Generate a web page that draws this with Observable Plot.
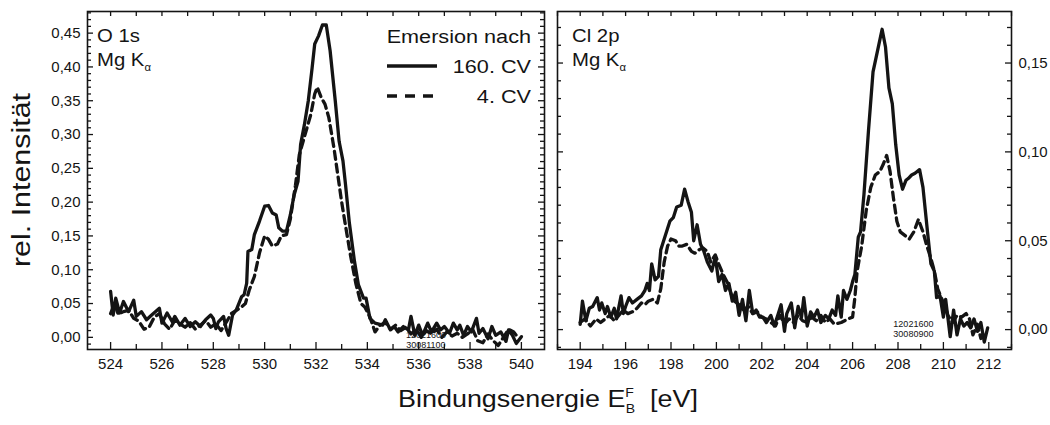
<!DOCTYPE html>
<html><head><meta charset="utf-8">
<script src="https://cdn.jsdelivr.net/npm/d3@7"></script>
<script src="https://cdn.jsdelivr.net/npm/@observablehq/plot@0.6"></script>
<style>
body{margin:0;background:#fff;font-family:"Liberation Sans",Arial,Helvetica,sans-serif;}
#wrap{position:relative;width:1050px;height:425px;overflow:hidden;background:#fff;}
#wrap > svg, #wrap > figure{position:absolute;margin:0;}
</style></head><body><div id="wrap"></div>
<script>
// ---------- data: O 1s (left panel) ----------
const o1sSolidE = [524.0,524.1,524.2,524.35,524.5,524.7,524.9,525.0,525.2,525.4,525.6,525.9,526.0,526.2,526.4,526.5,526.7,526.9,527.1,527.3,527.5,527.7,527.9,528.0,528.1,528.2,528.4,528.5,528.6,528.75,528.9,529.1,529.2,529.3,529.35,529.5,529.6,529.8,530.0,530.15,530.3,530.45,530.55,530.7,530.85,531.0,531.15,531.3,531.4,531.55,531.7,531.85,531.95,532.1,532.25,532.4,532.55,532.75,532.9,533.05,533.15,533.3,533.5,533.65,533.85,533.95,534.1,534.3,534.6,534.7,534.9,535.05,535.2,535.4,535.6,535.7,535.85,536.0,536.15,536.35,536.5,536.7,536.85,537.0,537.2,537.35,537.5,537.6,537.75,537.9,538.05,538.25,538.35,538.5,538.7,538.85,539.0,539.2,539.4,539.5,539.65,539.8,540.0];
const o1sSolidI = [0.068,0.033,0.058,0.036,0.053,0.038,0.055,0.031,0.038,0.026,0.033,0.043,0.021,0.036,0.023,0.031,0.018,0.028,0.016,0.023,0.016,0.026,0.033,0.028,0.013,0.023,0.031,0.013,0.003,0.033,0.041,0.060,0.063,0.080,0.127,0.130,0.152,0.172,0.194,0.195,0.184,0.181,0.162,0.157,0.157,0.181,0.211,0.231,0.285,0.315,0.350,0.399,0.434,0.446,0.462,0.462,0.424,0.350,0.290,0.261,0.226,0.169,0.112,0.078,0.058,0.058,0.028,0.021,0.018,0.026,0.011,0.016,0.008,0.016,0.011,0.031,0.003,0.018,0.003,0.021,0.008,0.021,0.011,0.016,0.006,0.021,0.011,0.018,0.003,0.016,0.008,0.028,0.006,0.013,-0.002,0.016,0.003,0.008,-0.006,0.011,0.003,-0.009,0.001];
const o1sDashE = [524.0,524.15,524.3,524.5,524.7,524.9,525.1,525.3,525.5,525.7,525.9,526.1,526.3,526.5,526.7,526.9,527.1,527.3,527.5,527.7,527.9,528.1,528.3,528.5,528.7,528.9,529.1,529.25,529.4,529.6,529.8,530.0,530.15,530.3,530.5,530.65,530.85,531.0,531.2,531.35,531.5,531.65,531.8,531.95,532.05,532.2,532.35,532.5,532.7,532.85,533.0,533.15,533.35,533.55,533.75,533.9,534.1,534.3,534.5,534.7,534.9,535.1,535.3,535.5,535.7,535.9,536.1,536.3,536.5,536.7,536.9,537.1,537.3,537.5,537.7,537.9,538.1,538.3,538.5,538.7,538.9,539.1,539.3,539.5,539.7,539.9];
const o1sDashI = [0.035,0.050,0.034,0.038,0.040,0.028,0.024,0.012,0.015,0.030,0.035,0.020,0.012,0.025,0.020,0.015,0.022,0.012,0.018,0.025,0.015,0.020,0.010,0.022,0.035,0.040,0.045,0.050,0.070,0.090,0.125,0.150,0.145,0.135,0.138,0.150,0.152,0.175,0.225,0.270,0.290,0.310,0.330,0.360,0.370,0.355,0.345,0.325,0.280,0.240,0.200,0.165,0.120,0.080,0.050,0.045,0.030,0.008,0.018,0.022,0.012,0.018,0.010,0.015,0.005,0.012,0.000,0.010,0.005,0.012,0.000,0.008,0.002,0.006,0.000,0.005,0.012,-0.005,-0.008,0.005,-0.005,-0.012,0.000,0.012,0.008,-0.002];

// ---------- data: Cl 2p (right panel) ----------
const cl2pSolidE = [194.0,194.1,194.25,194.4,194.55,194.75,194.85,194.95,195.1,195.2,195.35,195.5,195.6,195.8,195.9,196.0,196.15,196.3,196.5,196.7,196.85,196.95,197.05,197.15,197.3,197.45,197.55,197.75,197.95,198.1,198.25,198.45,198.6,198.75,198.9,199.0,199.15,199.3,199.45,199.6,199.8,199.95,200.1,200.25,200.4,200.55,200.7,200.85,201.0,201.15,201.3,201.45,201.6,201.75,201.9,202.05,202.2,202.4,202.55,202.7,202.85,203.0,203.1,203.3,203.45,203.6,203.75,203.85,204.0,204.15,204.3,204.45,204.6,204.8,204.95,205.1,205.25,205.35,205.5,205.6,205.75,205.9,206.0,206.1,206.25,206.35,206.5,206.7,206.9,207.1,207.3,207.45,207.6,207.75,207.9,208.05,208.2,208.35,208.45,208.6,208.75,208.95,209.1,209.3,209.45,209.6,209.7,209.85,210.0,210.1,210.3,210.45,210.6,210.75,210.9,211.05,211.2,211.35,211.5,211.65,211.8,211.95];
const cl2pSolidI = [0.003,0.016,0.005,0.012,0.013,0.018,0.011,0.015,0.009,0.013,0.007,0.012,0.006,0.019,0.009,0.013,0.018,0.015,0.017,0.019,0.022,0.026,0.022,0.037,0.028,0.030,0.045,0.053,0.061,0.063,0.069,0.070,0.079,0.072,0.066,0.050,0.059,0.048,0.044,0.038,0.033,0.041,0.027,0.031,0.022,0.026,0.016,0.021,0.008,0.017,0.005,0.022,0.009,0.011,0.007,0.007,0.004,0.008,0.002,0.008,0.014,-0.001,0.009,0.015,0.001,0.013,0.007,0.018,0.002,0.010,0.007,0.011,0.004,0.008,0.006,0.011,0.008,0.019,0.007,0.022,0.017,0.022,0.027,0.031,0.052,0.055,0.076,0.112,0.145,0.157,0.169,0.159,0.136,0.127,0.104,0.087,0.079,0.084,0.085,0.087,0.088,0.090,0.080,0.055,0.037,0.033,0.018,0.019,0.007,0.017,-0.004,0.011,-0.003,0.006,0.002,0.004,0.001,0.006,-0.001,0.004,-0.007,0.001];
const cl2pDashE = [194.0,194.2,194.45,194.7,194.9,195.1,195.3,195.5,195.7,195.9,196.1,196.3,196.5,196.7,196.85,197.0,197.2,197.4,197.55,197.7,197.85,198.0,198.2,198.35,198.5,198.7,198.9,199.05,199.25,199.4,199.6,199.75,199.95,200.1,200.3,200.5,200.65,200.8,201.0,201.2,201.4,201.6,201.8,202.0,202.2,202.4,202.6,202.8,203.0,203.2,203.4,203.6,203.8,204.0,204.2,204.4,204.6,204.8,205.0,205.2,205.5,205.8,206.0,206.1,206.2,206.4,206.6,206.8,207.0,207.2,207.35,207.5,207.65,207.8,207.95,208.1,208.3,208.5,208.7,208.9,209.1,209.25,209.45,209.6,209.75,209.9,210.05,210.2,210.4,210.6,210.8,211.0,211.15,211.3,211.5,211.65,211.8];
const cl2pDashI = [0.004,0.006,0.002,0.006,0.004,0.006,0.008,0.005,0.008,0.011,0.009,0.010,0.012,0.015,0.014,0.016,0.017,0.015,0.023,0.038,0.047,0.051,0.050,0.047,0.047,0.048,0.044,0.043,0.045,0.046,0.044,0.038,0.042,0.037,0.031,0.026,0.020,0.016,0.014,0.011,0.013,0.009,0.010,0.007,0.006,0.004,0.002,0.008,0.003,0.006,0.004,0.008,0.005,0.004,0.007,0.005,0.008,0.004,0.006,0.003,0.004,0.006,0.007,0.018,0.033,0.047,0.067,0.080,0.087,0.089,0.093,0.098,0.089,0.074,0.061,0.055,0.053,0.051,0.055,0.062,0.055,0.048,0.040,0.033,0.023,0.018,0.014,0.008,0.004,0.008,0.007,0.009,0.006,-0.003,0.003,-0.005,-0.001];

// ---------- tick values & labels ----------
const o1sXTicks = [524,526,528,530,532,534,536,538,540];
const o1sYTicks = [0,0.05,0.10,0.15,0.20,0.25,0.30,0.35,0.40,0.45];
const cl2pXTicks = [194,196,198,200,202,204,206,208,210,212];
const cl2pYTicks = [0,0.05,0.10,0.15];
const legendTitle = "Emersion nach";
const seriesNames = ["160. CV", "4. CV"];
const yTitle = "rel. Intensität";
const xTitle = "Bindungsenergie E";

const zip = (E, I) => E.map((e, k) => ({e, i: I[k]}));
const H = 380, MT = 11, MB = 31;
const INK = "#141414";
const FONT = '"Liberation Sans", Arial, sans-serif';
const fmtY = d => d.toFixed(2).replace(".", ",");
const range = (a, b, s) => d3.range(Math.round(a / s), Math.round(b / s) + 1).map(k => +(k * s).toFixed(4));

function panel({xDomain, yDomain, solid, dashed, width, ml, mr, xTicks, yTicks, yAnchor}) {
  const fw = width - ml - mr, fh = H - MT - MB;
  const xAll = range(Math.ceil(xDomain[0]), Math.floor(xDomain[1]), 1);
  const xMinor = xAll.filter(v => !xTicks.includes(v));
  const yAll = range(Math.ceil(yDomain[0] * 100) / 100, Math.floor(yDomain[1] * 100) / 100, 0.01);
  const isMajor = v => yTicks.some(t => Math.abs(t - v) < 1e-6);
  const yMinor = yAll.filter(v => !isMajor(v));
  const tk = {stroke: INK, strokeWidth: 1.3};
  return Plot.plot({
    width, height: H, marginTop: MT, marginBottom: MB, marginLeft: ml, marginRight: mr,
    x: {domain: xDomain},
    y: {domain: yDomain},
    style: {fontFamily: FONT, fontSize: "15px", color: INK, background: "transparent"},
    marks: [
      Plot.line(solid, {x: "e", y: "i", stroke: INK, strokeWidth: 3.3, strokeLinejoin: "round", clip: true}),
      Plot.line(dashed, {x: "e", y: "i", stroke: INK, strokeWidth: 3.3, strokeDasharray: "8,5", strokeLinejoin: "round", clip: true}),
      // bottom ticks (inward)
      Plot.tickX(xTicks, {x: d => d, insetTop: fh - 7, ...tk}),
      Plot.tickX(xMinor, {x: d => d, insetTop: fh - 5, ...tk}),
      // top ticks
      Plot.tickX(xAll, {x: d => d, insetBottom: fh - 5, ...tk}),
      // left & right ticks
      Plot.tickY(yTicks, {y: d => d, insetRight: fw - 6, ...tk}),
      Plot.tickY(yMinor, {y: d => d, insetRight: fw - 4, ...tk}),
      Plot.tickY(yTicks, {y: d => d, insetLeft: fw - 6, ...tk}),
      Plot.tickY(yMinor, {y: d => d, insetLeft: fw - 4, ...tk}),
      Plot.frame({stroke: INK, strokeWidth: 1.6}),
      Plot.axisX({ticks: xTicks, tickSize: 0, tickPadding: 9, tickFormat: d => String(d), label: null}),
      Plot.axisY({anchor: yAnchor, ticks: yTicks, tickSize: 0, tickPadding: 7, tickFormat: fmtY, label: null})
    ]
  });
}

const wrap = document.getElementById("wrap");
const left = panel({xDomain: [523.1, 540.9], yDomain: [-0.018, 0.482], solid: zip(o1sSolidE, o1sSolidI), dashed: zip(o1sDashE, o1sDashI),
  width: 550, ml: 87, mr: 6, xTicks: o1sXTicks, yTicks: o1sYTicks, yAnchor: "left"});
const right = panel({xDomain: [193, 213], yDomain: [-0.0112, 0.179], solid: zip(cl2pSolidE, cl2pSolidI), dashed: zip(cl2pDashE, cl2pDashI),
  width: 500, ml: 7, mr: 39, xTicks: cl2pXTicks, yTicks: cl2pYTicks, yAnchor: "right"});
left.style.left = "0px"; left.style.top = "0px";
right.style.left = "550px"; right.style.top = "0px";
wrap.appendChild(left); wrap.appendChild(right);

// ---------- overlay: titles, panel labels, legend ----------
const ov = d3.select(wrap).append("svg").attr("width", 1050).attr("height", 425)
  .style("left", "0px").style("top", "0px").style("pointer-events", "none")
  .attr("font-family", FONT).attr("fill", INK);

// text with the reference's slightly wider letterforms (horizontal stretch)
function label(x, y, size, sx = 1.13, anchor = "start") {
  return ov.append("text").attr("transform", `translate(${x},${y}) scale(${sx},1)`)
    .attr("font-size", size).attr("text-anchor", anchor);
}
function panelLabel(x, l1) {
  label(x, 42, 18).text(l1);
  const t = label(x, 66, 18);
  t.append("tspan").text("Mg K");
  t.append("tspan").attr("font-size", 10).attr("dy", 5).text("α");
}
panelLabel(97, "O 1s");
panelLabel(572, "Cl 2p");

// legend
const lx1 = 387, lx2 = 437, rx = 531;
label(rx, 43, 19, 1.14, "end").text(legendTitle);
label(rx, 73, 19, 1.14, "end").text(seriesNames[0]);
label(rx, 103, 19, 1.14, "end").text(seriesNames[1]);
ov.append("line").attr("x1", lx1).attr("x2", lx2).attr("y1", 66).attr("y2", 66).attr("stroke", INK).attr("stroke-width", 3.4);
ov.append("line").attr("x1", lx1).attr("x2", lx2).attr("y1", 96).attr("y2", 96).attr("stroke", INK).attr("stroke-width", 3.4).attr("stroke-dasharray", "10,8");

// sample-id texts, positioned via panel scales
const sxL = left.scale("x");
const sxR = right.scale("x");
function ids(cx, by, a, b) {
  ov.append("text").attr("x", cx).attr("y", by).attr("font-size", 9).attr("text-anchor", "middle").text(a);
  ov.append("text").attr("x", cx).attr("y", by + 10).attr("font-size", 9).attr("text-anchor", "middle").text(b);
}
ids(sxL.apply(536.3), 338, "12021600", "30081100");
ids(550 + sxR.apply(208.7), 327, "12021600", "30080900");

// axis titles
ov.append("text").attr("transform", "translate(30,180) rotate(-90) scale(1.17,1)").attr("text-anchor", "middle")
  .attr("font-size", 26).text(yTitle);
const xt = label(548, 407, 23, 1.17, "middle");
xt.append("tspan").text(xTitle);
xt.append("tspan").attr("font-size", 12).attr("dy", -10).text("F");
xt.append("tspan").attr("font-size", 12).attr("dx", -7).attr("dy", 16).text("B");
xt.append("tspan").attr("dy", -6).text("\u00a0\u00a0[eV]");
</script></body></html>
